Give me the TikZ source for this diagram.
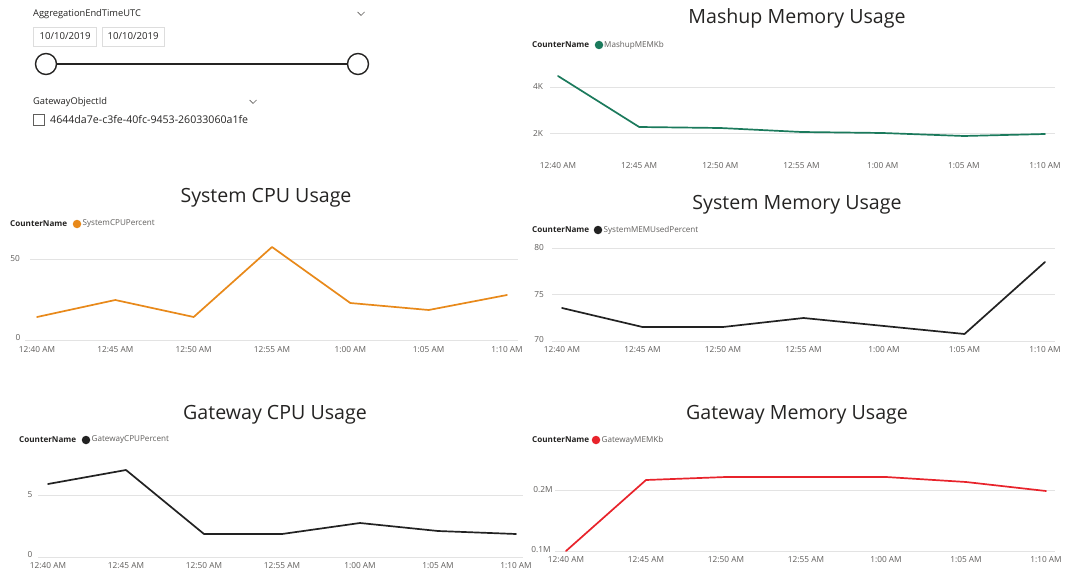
\documentclass[tikz,border=0pt]{standalone}
\usepackage{fontspec}
\setmainfont{Open Sans}
\definecolor{titlegray}{HTML}{252423}
\definecolor{axgray}{HTML}{605E5C}
\definecolor{gridgray}{HTML}{E3E3E3}
\definecolor{boxgray}{HTML}{DDDDDD}
\definecolor{mashgreen}{HTML}{1B7A5C}
\definecolor{cpuorange}{HTML}{E8891A}
\definecolor{memred}{HTML}{E8232B}
\definecolor{inkblack}{HTML}{222222}
\begin{document}
\begin{tikzpicture}[x=1pt,y=-1pt,
  charttitle/.style={font=\fontsize{19.6}{22}\selectfont, text=titlegray, inner sep=0, anchor=base},
  legendkey/.style={font=\fontsize{8.1}{9}\selectfont\bfseries, text=titlegray, anchor=west, inner sep=0},
  legenditem/.style={font=\fontsize{8.1}{9}\selectfont, text=axgray, anchor=west, inner sep=0},
  legenddot/.style={circle, inner sep=0, minimum size=8.5pt, fill=#1},
  ticklabel/.style={font=\fontsize{8.3}{10}\selectfont, text=axgray, inner sep=0},
  vallabel/.style={font=\fontsize{8.3}{10}\selectfont, text=axgray, inner sep=0},
  gridrule/.style={draw=gridgray, line width=0.9pt},
  series/.style={line width=1.7pt, line join=round, line cap=round, draw=#1},
  slicerlabel/.style={font=\fontsize{9.3}{11}\selectfont, text=titlegray, anchor=west, inner sep=0},
  datebox/.style={draw=boxgray, line width=0.8pt, minimum width=63pt, minimum height=19pt, inner sep=0,
                  font=\fontsize{9.6}{11}\selectfont, text=titlegray},
  chevron/.style={draw=axgray, line width=0.7pt},
  knob/.style={circle, draw=titlegray, line width=1.4pt, fill=white, minimum size=21pt, inner sep=0}]

\useasboundingbox[fill=white] (0,0) rectangle (1070,572);

% ---------- slicers ----------
\node[slicerlabel] (aggLbl) at (33,14) {AggregationEndTimeUTC};
\draw[chevron] (357.5,12) -- (361,15.5) -- (364.5,12);
\node[datebox] (dateA) at (65,36.5) {10/10/2019};
\node[datebox, minimum width=62pt] (dateB) at (133,36.5) {10/10/2019};
\node[knob] (knobL) at (46,64) {};
\node[knob] (knobR) at (358,64) {};
\draw[draw=titlegray, line width=2.6pt] (knobL) -- (knobR);

\node[slicerlabel] (gwLbl) at (33,102) {GatewayObjectId};
\draw[chevron] (249.5,100) -- (253,103.5) -- (256.5,100);
\node[draw=axgray, line width=0.8pt, minimum size=11pt, inner sep=0] (chk) at (38.5,119.5) {};
\node[slicerlabel, font=\fontsize{10.6}{12}\selectfont] (gwId) at (50,119.5) {4644da7e-c3fe-40fc-9453-26033060a1fe};

% ---------- Mashup Memory Usage ----------
\node[charttitle] (t1) at (797,24) {Mashup Memory Usage};
\node[legendkey] (k1) at (532,45) {CounterName};
\node[legenddot=mashgreen] (d1) at (599,45) {};
\node[legenditem] (i1) at (604,45) {MashupMEMKb};
\draw[gridrule] (550,87) -- (1055,87);
\draw[gridrule] (550,133) -- (1055,133);
\node[vallabel] (v1a) at (538,87) {4K};
\node[vallabel] (v1b) at (538,133) {2K};
\foreach \t [count=\i from 0] in {12:40 AM,12:45 AM,12:50 AM,12:55 AM,1:00 AM,1:05 AM,1:10 AM}
  \node[ticklabel] (x1-\i) at (558+\i*81.17,166) {\t};
\draw[series=mashgreen] (558,76) -- (639.2,127) -- (720.3,128) -- (801.5,132) -- (882.7,133) -- (963.8,136) -- (1045,134);

% ---------- System CPU Usage ----------
\node[charttitle] (t2) at (266,203) {System CPU Usage};
\node[legendkey] (k2) at (10,224) {CounterName};
\node[legenddot=cpuorange] (d2) at (77,224) {};
\node[legenditem] (i2) at (82.5,224) {SystemCPUPercent};
\draw[gridrule] (30,259) -- (518,259);
\draw[gridrule] (25,340) -- (518,340);
\node[vallabel] (v2a) at (15,259) {50};
\node[vallabel] (v2b) at (18,338) {0};
\foreach \t [count=\i from 0] in {12:40 AM,12:45 AM,12:50 AM,12:55 AM,1:00 AM,1:05 AM,1:10 AM}
  \node[ticklabel] (x2-\i) at (37+\i*78.33,350) {\t};
\draw[series=cpuorange] (37,317) -- (115.3,300) -- (193.7,317) -- (272,247) -- (350.3,303) -- (428.7,310) -- (507,295);

% ---------- System Memory Usage ----------
\node[charttitle] (t3) at (797,209) {System Memory Usage};
\node[legendkey] (k3) at (532,230) {CounterName};
\node[legenddot=inkblack] (d3) at (598,230) {};
\node[legenditem] (i3) at (603.5,230) {SystemMEMUsedPercent};
\draw[gridrule] (552,248) -- (1055,248);
\draw[gridrule] (552,294.5) -- (1055,294.5);
\draw[gridrule] (552,341) -- (1055,341);
\node[vallabel] (v3a) at (539,248) {80};
\node[vallabel] (v3b) at (539,294.5) {75};
\node[vallabel] (v3c) at (539,340) {70};
\foreach \t [count=\i from 0] in {12:40 AM,12:45 AM,12:50 AM,12:55 AM,1:00 AM,1:05 AM,1:10 AM}
  \node[ticklabel] (x3-\i) at (562+\i*80.5,350) {\t};
\draw[series=inkblack] (562,308) -- (642.5,327) -- (723,327) -- (803.5,318) -- (884,326) -- (964.5,334) -- (1045,262);

% ---------- Gateway CPU Usage ----------
\node[charttitle] (t4) at (275,419) {Gateway CPU Usage};
\node[legendkey] (k4) at (19,440) {CounterName};
\node[legenddot=inkblack] (d4) at (86,440) {};
\node[legenditem] (i4) at (91.5,440) {GatewayCPUPercent};
\draw[gridrule] (38,495) -- (523,495);
\draw[gridrule] (38,557) -- (523,557);
\node[vallabel] (v4a) at (30,495) {5};
\node[vallabel] (v4b) at (30,555) {0};
\foreach \t [count=\i from 0] in {12:40 AM,12:45 AM,12:50 AM,12:55 AM,1:00 AM,1:05 AM,1:10 AM}
  \node[ticklabel] (x4-\i) at (48+\i*78,566) {\t};
\draw[series=inkblack] (48,484) -- (126,470) -- (204,534) -- (282,534) -- (360,523) -- (438,531) -- (516,534);

% ---------- Gateway Memory Usage ----------
\node[charttitle] (t5) at (797,419) {Gateway Memory Usage};
\node[legendkey] (k5) at (532,440) {CounterName};
\node[legenddot=memred] (d5) at (596,440) {};
\node[legenditem] (i5) at (601.5,440) {GatewayMEMKb};
\draw[gridrule] (555,490) -- (1055,490);
\draw[gridrule] (555,551) -- (1055,551);
\node[vallabel] (v5a) at (543,490) {0.2M};
\node[vallabel] (v5b) at (541,550) {0.1M};
\foreach \t [count=\i from 0] in {12:40 AM,12:45 AM,12:50 AM,12:55 AM,1:00 AM,1:05 AM,1:10 AM}
  \node[ticklabel] (x5-\i) at (566+\i*80,560) {\t};
\draw[series=memred] (566,551) -- (646,480) -- (726,477) -- (806,477) -- (886,477) -- (966,482) -- (1046,491);
\end{tikzpicture}
\end{document}
